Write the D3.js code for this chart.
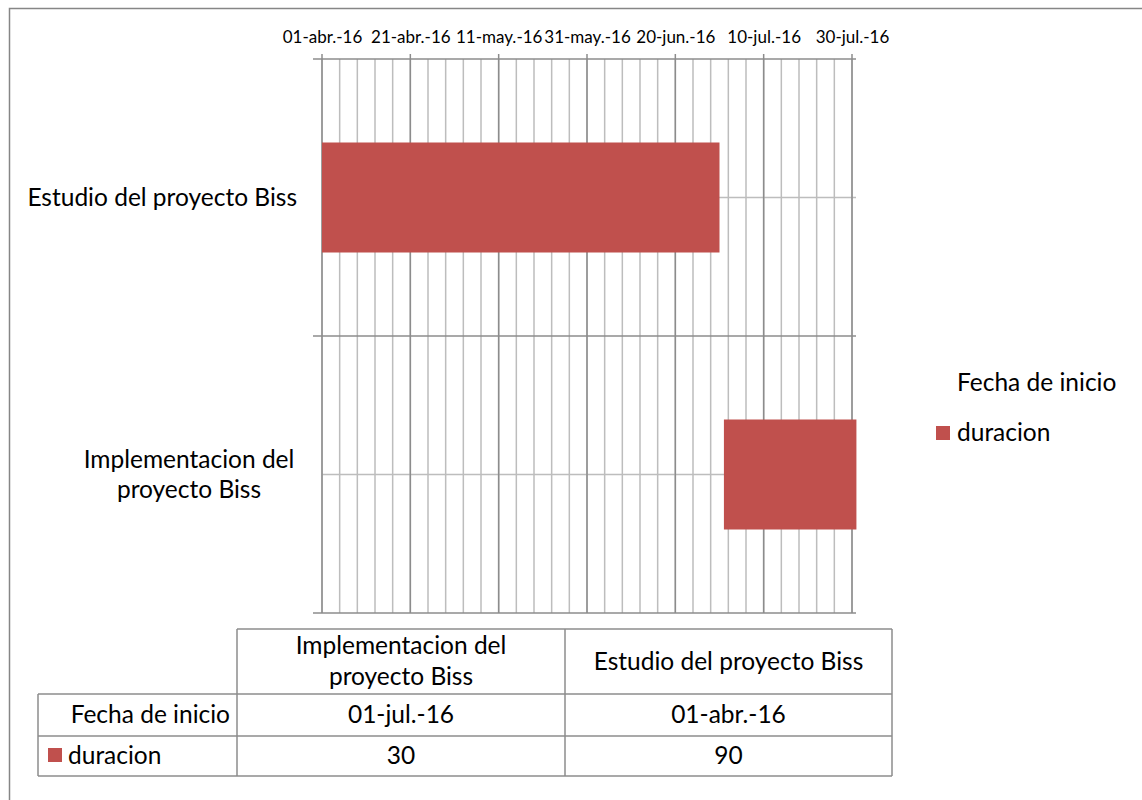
<!DOCTYPE html>
<html>
  <head>
    <meta charset="utf-8">
    <title>Gantt Biss</title>
    <script src="https://d3js.org/d3.v7.min.js"></script>
    <style>
      body { margin: 0; background: #fff; }
      text { font-family: Lato, "Open Sans", sans-serif; fill: #000; }
    </style>
  </head>
  <body>
    <div id="chart"></div>
  </body>
  <script>
  // datos
  var categories = ["Estudio del proyecto Biss", "Implementacion del proyecto Biss"];
  var startDates = ["2016-04-01", "2016-07-01"];
  var durations  = [90, 30];
  var seriesNames = ["Fecha de inicio", "duracion"];
  var axisMin = "2016-04-01", axisMax = "2016-07-30";
  var majorStep = 20, minorStep = 4;

  var barColor = "#C0504D";
  var fs = "24.5px";

  var es = d3.timeFormatLocale({
    dateTime: "%x, %X", date: "%d/%m/%Y", time: "%H:%M:%S", periods: ["AM", "PM"],
    days: ["domingo","lunes","martes","miércoles","jueves","viernes","sábado"],
    shortDays: ["dom","lun","mar","mié","jue","vie","sáb"],
    months: ["enero","febrero","marzo","abril","mayo","junio","julio","agosto","septiembre","octubre","noviembre","diciembre"],
    shortMonths: ["ene.","feb.","mar.","abr.","may.","jun.","jul.","ago.","sep.","oct.","nov.","dic."]
  });
  var fmt = es.utcFormat("%d-%b-%y");
  var parse = d3.utcParse("%Y-%m-%d");

  var start = parse(axisMin), end = parse(axisMax);
  var nDays = d3.utcDay.count(start, end);

  var svg = d3.select("#chart").append("svg")
      .attr("width", 1142).attr("height", 800);

  // marco exterior
  svg.append("rect").attr("x", 9.5).attr("y", 8.5)
      .attr("width", 1150).attr("height", 820)
      .attr("fill", "none").attr("stroke", "#868686").attr("stroke-width", 1.5);

  var plotTop = 59, plotBottom = 613;
  var x = d3.scaleUtc().domain([start, end]).range([322, 852]);
  var y = d3.scaleBand().domain(categories).range([plotTop, plotBottom]);

  var minorTicks = d3.range(0, nDays + 1, minorStep).map(d => d3.utcDay.offset(start, d));
  var majorTicks = d3.range(0, nDays + 1, majorStep).map(d => d3.utcDay.offset(start, d));

  // lineas verticales menores
  svg.selectAll(".minor").data(minorTicks).enter().append("line")
      .attr("x1", d => x(d)).attr("x2", d => x(d))
      .attr("y1", plotTop).attr("y2", plotBottom)
      .attr("stroke", "#BDBDBD").attr("stroke-width", 1.5);

  // lineas horizontales en el centro de cada categoria
  svg.selectAll(".hgrid").data(categories).enter().append("line")
      .attr("x1", 322).attr("x2", 856)
      .attr("y1", d => y(d) + y.bandwidth() / 2).attr("y2", d => y(d) + y.bandwidth() / 2)
      .attr("stroke", "#BDBDBD").attr("stroke-width", 1.5);

  // limites de categoria
  var bounds = categories.map(d => y(d)).concat([plotBottom]);
  svg.selectAll(".bound").data(bounds).enter().append("line")
      .attr("x1", 313).attr("x2", 856)
      .attr("y1", d => d).attr("y2", d => d)
      .attr("stroke", "#8C8C8C").attr("stroke-width", 1.5);

  // lineas mayores
  svg.selectAll(".major").data(majorTicks).enter().append("line")
      .attr("x1", d => x(d)).attr("x2", d => x(d))
      .attr("y1", plotTop - 5).attr("y2", plotBottom)
      .attr("stroke", "#8C8C8C").attr("stroke-width", 1.5);

  // eje superior (etiquetas)
  var axis = svg.append("g").attr("transform", "translate(0," + plotTop + ")")
      .call(d3.axisTop(x).tickValues(majorTicks).tickFormat(fmt).tickSize(0).tickPadding(16));
  axis.select(".domain").remove();
  axis.selectAll("text").style("font-family", "Lato, sans-serif").style("font-size", "17px").attr("fill", "#000");

  // barras (serie duracion, la fecha de inicio es invisible)
  var barH = 110;
  svg.selectAll(".bar").data(categories).enter().append("rect")
      .attr("x", (d, i) => x(parse(startDates[i])))
      .attr("width", (d, i) => x(d3.utcDay.offset(parse(startDates[i]), durations[i])) - x(parse(startDates[i])))
      .attr("y", d => y(d) + (y.bandwidth() - barH) / 2)
      .attr("height", barH)
      .attr("fill", barColor);

  // etiquetas de categoria
  var catLines = [["Estudio del proyecto Biss"], ["Implementacion del", "proyecto Biss"]];
  categories.forEach((c, i) => {
    var cy = y(c) + y.bandwidth() / 2;
    var lines = catLines[i];
    var lx = lines.length > 1 ? 189 : 297;
    var t = svg.append("text").attr("font-size", fs)
        .attr("text-anchor", lines.length > 1 ? "middle" : "end");
    lines.forEach((l, j) => {
      t.append("tspan").attr("x", lx)
        .attr("y", cy + (j - (lines.length - 1) / 2) * 30 + 8).text(l);
    });
  });

  // leyenda
  svg.append("text").attr("x", 957).attr("y", 391).attr("font-size", fs).text(seriesNames[0]);
  svg.append("rect").attr("x", 936).attr("y", 426).attr("width", 14).attr("height", 14).attr("fill", barColor);
  svg.append("text").attr("x", 957).attr("y", 441).attr("font-size", fs).text(seriesNames[1]);

  // tabla de datos
  var colX = [38, 237, 565, 892];
  var rowY = [629, 694, 736, 776];
  var g = svg.append("g").attr("stroke", "#8C8C8C").attr("stroke-width", 1.5);
  g.append("line").attr("x1", colX[1]).attr("x2", colX[3]).attr("y1", rowY[0]).attr("y2", rowY[0]);
  rowY.slice(1).forEach(r => g.append("line").attr("x1", colX[0]).attr("x2", colX[3]).attr("y1", r).attr("y2", r));
  g.append("line").attr("x1", colX[0]).attr("x2", colX[0]).attr("y1", rowY[1]).attr("y2", rowY[3]);
  colX.slice(1).forEach(c => g.append("line").attr("x1", c).attr("x2", c).attr("y1", rowY[0]).attr("y2", rowY[3]));

  // columnas en orden inverso (como en Excel)
  var order = [1, 0];
  var headLines = { 0: ["Estudio del proyecto Biss"], 1: ["Implementacion del", "proyecto Biss"] };
  order.forEach((k, j) => {
    var cx = (colX[j + 1] + colX[j + 2]) / 2;
    var hl = headLines[k];
    var hc = (rowY[0] + rowY[1]) / 2;
    hl.forEach((l, m) => {
      svg.append("text").attr("x", cx).attr("y", hc + (m - (hl.length - 1) / 2) * 31 + 8)
        .attr("text-anchor", "middle").attr("font-size", fs).text(l);
    });
    svg.append("text").attr("x", cx).attr("y", (rowY[1] + rowY[2]) / 2 + 8)
      .attr("text-anchor", "middle").attr("font-size", fs).text(fmt(parse(startDates[k])));
    svg.append("text").attr("x", cx).attr("y", (rowY[2] + rowY[3]) / 2 + 8)
      .attr("text-anchor", "middle").attr("font-size", fs).text(durations[k]);
  });
  svg.append("text").attr("x", 230).attr("y", (rowY[1] + rowY[2]) / 2 + 8)
    .attr("text-anchor", "end").attr("font-size", fs).text(seriesNames[0]);
  svg.append("rect").attr("x", 48).attr("y", 748).attr("width", 14).attr("height", 14).attr("fill", barColor);
  svg.append("text").attr("x", 68).attr("y", (rowY[2] + rowY[3]) / 2 + 8)
    .attr("font-size", fs).text(seriesNames[1]);
  </script>
</html>
